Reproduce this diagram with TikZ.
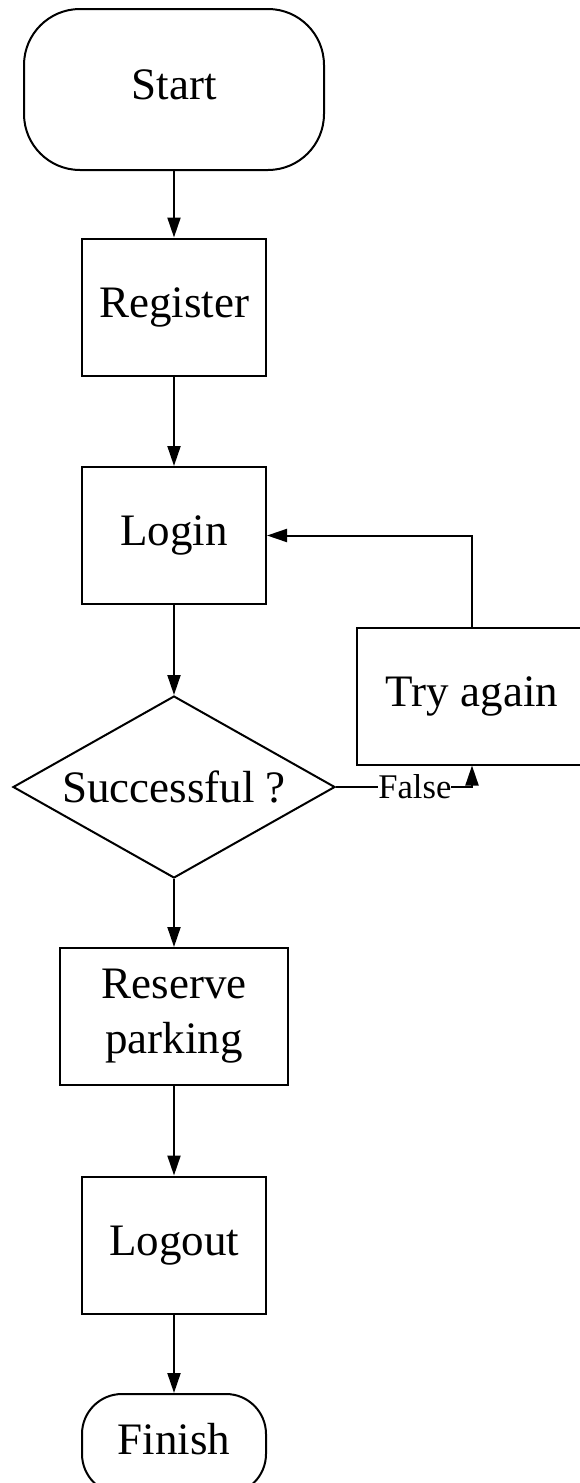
\documentclass[tikz,border=0pt]{standalone}
\usepackage{fontspec}
\setmainfont{Liberation Serif}
\usetikzlibrary{arrows.meta,shapes.geometric}
\begin{document}
\begin{tikzpicture}[x=0.5pt,y=-0.5pt,line width=1pt,>={Triangle[length=10pt,width=6.5pt]},
font=\fontsize{22.5}{27.5}\selectfont,
box/.style={draw,inner sep=0,minimum width=92pt,minimum height=68.5pt,align=center},
line/.style={text height=15pt,text depth=5pt},
term/.style={draw,line,rounded corners=28pt,inner sep=0,minimum width=92pt,minimum height=50pt},
cond/.style={draw,diamond,aspect=1.77,inner sep=0,minimum width=161pt,minimum height=91pt}]
\useasboundingbox (0,0) rectangle (579,1483);
%% Khoi
\node[term,minimum width=150pt,minimum height=80.5pt] (start) at (174,89.5) {Start};
\node[box,line] (register) at (174,307) {Register};
\node[box,line] (login) at (174,535.5) {Login};
\node[cond] (check) at (174,787) {Successful ?};
\node[box,line,minimum width=115pt] (retry) at (472,696) {Try again};
\node[box,minimum width=114pt] (reserve) at (174,1016.5) {Reserve\\parking};
\node[box,line] (logout) at (174,1245) {Logout};
\node[term,rounded corners=20pt] (finish) at (174,1444) {Finish};
%% Mui ten
\draw[->] (start)--(register);
\draw[->] (register)--(login);
\draw[->] (login)--(check);
\draw[->] (check)--(reserve);
\draw[->] (reserve)--(logout);
\draw[->] (logout)--(finish);
\draw[->] (retry.north)|-(login.east);
\draw[->] (check.east)-|node[pos=.29,fill=white,inner sep=0,font=\fontsize{17.3}{20}\selectfont]{False}(retry.south);
\end{tikzpicture}
\end{document}
